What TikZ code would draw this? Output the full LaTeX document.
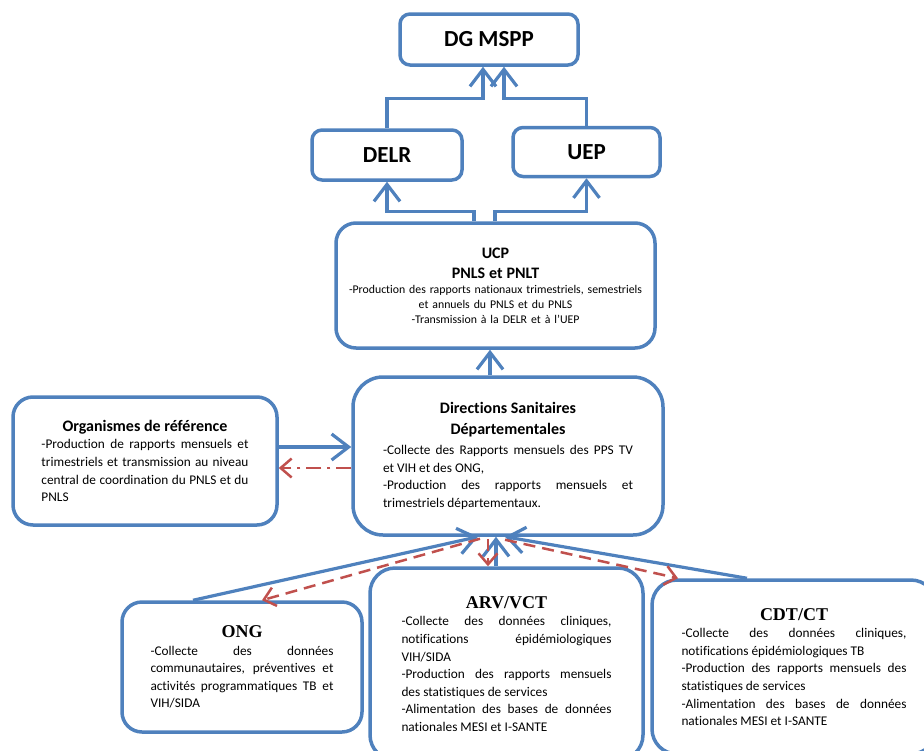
\documentclass[tikz,border=0pt]{standalone}
\usepackage{fontspec}
\setmainfont{Carlito}[Ligatures={NoCommon}]
\newfontfamily\serifhead{Liberation Serif}
\usetikzlibrary{arrows.meta}
\definecolor{orgblue}{HTML}{4F81BD}
\definecolor{orgred}{HTML}{C0504D}
\setlength{\parindent}{0pt}
\hyphenpenalty=10000
\exhyphenpenalty=10000
\hbadness=10000

\begin{document}
\begin{tikzpicture}[x=1pt, y=-1pt]
    \tikzset{
        unitbox/.style={draw=orgblue, line width=3.5pt, fill=white, inner sep=0pt},
        headbox/.style={unitbox, rounded corners=10pt, font=\fontsize{23}{27}\selectfont\bfseries},
        bodytext/.style={font=\fontsize{13.3}{17.6}\selectfont, align=justify},
        upflow/.style={draw=orgblue, line width=3.2pt, -{Straight Barb[length=17pt,width=26pt]}},
        downflow/.style={draw=orgred, line width=2.5pt, dash pattern=on 12pt off 7pt,
            -{Straight Barb[length=11pt,width=19pt]}},
    }
    \useasboundingbox (0,0) rectangle (924,750);

    % Niveau central
    \node[headbox, minimum width=178pt, minimum height=51pt] (dg) at (489,39.5) {DG MSPP};
    \node[headbox, minimum width=150pt, minimum height=50pt] (delr) at (387,155) {DELR};
    \node[headbox, minimum width=147pt, minimum height=49pt] (uep) at (586.5,152) {UEP};

    \node[unitbox, rounded corners=20pt, minimum width=319pt, minimum height=125pt,
        text width=310pt, align=center, font=\fontsize{11.8}{15}\selectfont] (ucp) at (495.5,285.5)
        {{\bfseries\fontsize{16}{20}\selectfont UCP\\ PNLS et PNLT\par}
        -Production des rapports nationaux trimestriels, semestriels\\
        et annuels du PNLS et du PNLS\\
        -Transmission à la DELR et à l’UEP};

    % Niveau departemental
    \node[unitbox, rounded corners=30pt, minimum width=310pt, minimum height=158pt,
        text width=250pt, bodytext] (dsd) at (508,456)
        {{\centering\bfseries\fontsize{16}{21}\selectfont Directions Sanitaires\\ Départementales\par}
        \vspace{2pt}-Collecte des Rapports mensuels des PPS TV\linebreak et VIH et des ONG,\par
        -Production des rapports mensuels et\linebreak trimestriels départementaux.};

    \node[unitbox, rounded corners=20pt, minimum width=264pt, minimum height=128pt,
        text width=207pt, bodytext] (org) at (145,461)
        {{\centering\bfseries\fontsize{16}{20}\selectfont Organismes de référence\par}
        -Production de rapports mensuels et\linebreak trimestriels et transmission au niveau\linebreak
        central de coordination du PNLS et du\linebreak PNLS};

    % Niveau peripherique
    \node[unitbox, rounded corners=20pt, minimum width=240pt, minimum height=130pt,
        text width=183pt, bodytext] (ong) at (242,667)
        {{\centering\serifhead\bfseries\fontsize{18}{19}\selectfont ONG\par}
        -Collecte des données\linebreak communautaires, préventives et\linebreak
        activités programmatiques TB et\linebreak VIH/SIDA};

    \node[unitbox, rounded corners=25pt, minimum width=273pt, minimum height=192pt,
        text width=210pt, bodytext] (arv) at (506.5,664)
        {{\centering\serifhead\bfseries\fontsize{18}{19}\selectfont ARV/VCT\par}
        -Collecte des données cliniques,\linebreak notifications épidémiologiques\linebreak VIH/SIDA\par
        -Production des rapports mensuels\linebreak des statistiques de services\par
        -Alimentation des bases de données\linebreak nationales MESI et I-SANTE};

    \node[unitbox, rounded corners=25pt, minimum width=284pt, minimum height=174pt,
        text width=225pt, bodytext] (cdt) at (794,667)
        {{\centering\serifhead\bfseries\fontsize{18}{19}\selectfont CDT/CT\par}
        -Collecte des données cliniques,\linebreak notifications épidémiologiques TB\par
        -Production des rapports mensuels des\linebreak statistiques de services\par
        -Alimentation des bases de données\linebreak nationales MESI et I-SANTE};

    % Remontee des donnees
    \draw[upflow] (delr.north) |- ([xshift=-6pt, yshift=-32pt]dg.south) -- ([xshift=-6pt]dg.south);
    \draw[upflow] (uep.north) |- ([xshift=15pt, yshift=-32pt]dg.south) -- ([xshift=15pt]dg.south);
    \draw[upflow] ([xshift=-21.5pt]ucp.north) |- ([yshift=-30pt]delr.south) -- (delr.south);
    \draw[upflow] ([xshift=-0.5pt]ucp.north) |- ([yshift=-33pt]uep.south) -- (uep.south);
    \draw[upflow] ([xshift=-18pt]dsd.north) -- ([xshift=-18pt]dsd.north |- ucp.south);
    \draw[upflow] ([yshift=14pt]org.east) -- ([yshift=14pt]org.east -| dsd.west);
    \draw[upflow] ([xshift=-49pt]ong.north) -- ([xshift=-30pt]dsd.south);
    \draw[upflow] ([xshift=-10.5pt]arv.north) -- ([xshift=-12pt]dsd.south);
    \draw[upflow] ([xshift=-47pt]cdt.north) -- ([xshift=-3pt]dsd.south);

    % Retro-information
    \draw[downflow, dash pattern=on 15pt off 6pt on 3pt off 6pt]
        ([yshift=-7pt]org.east -| dsd.west) -- ([yshift=-7pt]org.east);
    \draw[downflow] ([xshift=-28pt, yshift=-2pt]dsd.south) -- ([xshift=20pt]ong.north);
    \draw[downflow] ([xshift=-20pt, yshift=-2pt]dsd.south) -- ([xshift=-18.5pt]arv.north);
    \draw[downflow] ([xshift=-3pt, yshift=-3pt]dsd.south) -- ([xshift=-116pt]cdt.north);
\end{tikzpicture}
\end{document}
